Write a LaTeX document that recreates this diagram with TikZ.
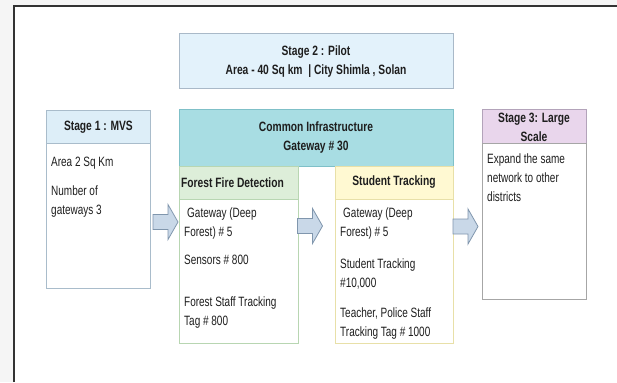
\documentclass[tikz,border=0pt]{standalone}
\usepackage{fontspec}
\setmainfont{Liberation Sans}[FakeStretch=0.74, BoldFeatures={FakeStretch=0.76}]
\definecolor{txt}{HTML}{1E1E1E}
\definecolor{s2fill}{HTML}{E3F2FB}
\definecolor{s2line}{HTML}{A9B9C8}
\definecolor{s1fill}{HTML}{DDEEF8}
\definecolor{s1line}{HTML}{A9BCCB}
\definecolor{cifill}{HTML}{A8DDE3}
\definecolor{ciline}{HTML}{7FC0C8}
\definecolor{fffill}{HTML}{DDEED9}
\definecolor{ffline}{HTML}{B8D6B2}
\definecolor{stfill}{HTML}{FFF9D2}
\definecolor{stline}{HTML}{E8E0A8}
\definecolor{s3fill}{HTML}{E9D6EC}
\definecolor{s3line}{HTML}{B3A3BA}
\definecolor{arfill}{HTML}{C9D8E8}
\definecolor{arline}{HTML}{8096AD}
\tikzset{
  box/.style={draw, line width=0.8pt, anchor=north west, inner sep=0pt, text=txt},
  hdr/.style={font=\fontsize{13.5}{19}\selectfont\bfseries, align=center, text=txt, inner sep=0pt},
  body/.style={font=\fontsize{13.5}{19}\selectfont, align=left, anchor=base west, text=txt, inner sep=0pt},
  blockarrow/.style={draw=arline, fill=arfill, line width=0.8pt, line join=miter}
}
\newcommand{\blockarrowat}[1]{%
  \draw[blockarrow] ([shift={(-12.5,-7.5)}]#1) -- ([shift={(2.5,-7.5)}]#1) -- ([shift={(2.5,-17.5)}]#1)
    -- ([shift={(12.5,0)}]#1) -- ([shift={(2.5,17.5)}]#1) -- ([shift={(2.5,7.5)}]#1)
    -- ([shift={(-12.5,7.5)}]#1) -- cycle;}
\begin{document}
\begin{tikzpicture}[x=1pt,y=-1pt]
\useasboundingbox (0,0) rectangle (617,382);
% frame
\fill[black!4] (0,0) rectangle (617,382);
\fill[white] (13.7,6) rectangle (617,382);
\draw[line width=2pt, black!80] (13.7,382) -- (13.7,6) -- (617,6);

% Stage 2
\node[box, draw=s2line, fill=s2fill, minimum width=274pt, minimum height=55pt] (s2) at (179,33) {};
\node[hdr] (s2t) at (316,61.5) {Stage 2 : Pilot\\Area - 40 Sq km\ \ | City Shimla , Solan};

% Stage 1
\node[box, draw=s1line, fill=s1fill, minimum width=104pt, minimum height=33pt] (s1h) at (46,110) {};
\node[box, draw=s1line, fill=white, minimum width=104pt, minimum height=145pt] (s1b) at (46,143) {};
\node[hdr] (s1t) at (s1h.center) {Stage 1 : MVS};
\node[body] (s1p1) at (51,166) {Area 2 Sq Km};
\node[body] (s1p2) at (51,214) {Number of\\gateways 3};

% Common infrastructure
\node[box, draw=ciline, fill=cifill, minimum width=274pt, minimum height=57pt] (ci) at (179,109) {};
\node[hdr] (cit) at (316,138) {Common Infrastructure\\Gateway \# 30};

% Forest fire detection
\node[box, draw=ffline, fill=fffill, minimum width=119pt, minimum height=33pt] (ffh) at (179,166) {};
\node[box, draw=ffline, fill=white, minimum width=119pt, minimum height=144pt] (ffb) at (179,199) {};
\node[hdr, anchor=west] (fft) at (181,182.5) {Forest Fire Detection};
\node[body] (ffp1) at (184,236) {\hspace*{3pt}Gateway (Deep\\Forest) \# 5};
\node[body] (ffp2) at (184,264) {Sensors \# 800};
\node[body] (ffp3) at (184,325) {Forest Staff Tracking\\Tag \# 800};

% Student tracking
\node[box, draw=stline, fill=stfill, minimum width=118pt, minimum height=33pt] (sth) at (335,166) {};
\node[box, draw=stline, fill=white, minimum width=118pt, minimum height=144pt] (stb) at (335,199) {};
\node[hdr] (stt) at (394,182.5) {Student Tracking};
\node[body] (stp1) at (340,236) {\hspace*{3pt}Gateway (Deep\\Forest) \# 5};
\node[body] (stp2) at (340,287) {Student Tracking\\\#10,000};
\node[body] (stp3) at (340,336) {Teacher, Police Staff\\Tracking Tag \# 1000};

% Stage 3
\node[box, draw=s3line, fill=s3fill, minimum width=104pt, minimum height=34pt] (s3h) at (482,109) {};
\node[box, draw=black!35, fill=white, minimum width=104pt, minimum height=156pt] (s3b) at (482,143) {};
\node[hdr] (s3t) at (534,127) {Stage 3: Large\\Scale};
\node[body] (s3p) at (487,201) {Expand the same\\network to other\\districts};

% block arrows
\coordinate (a1) at (165.5,222);
\coordinate (a2) at (310,226);
\coordinate (a3) at (465.5,226.5);
\blockarrowat{a1}
\blockarrowat{a2}
\blockarrowat{a3}
\end{tikzpicture}
\end{document}
